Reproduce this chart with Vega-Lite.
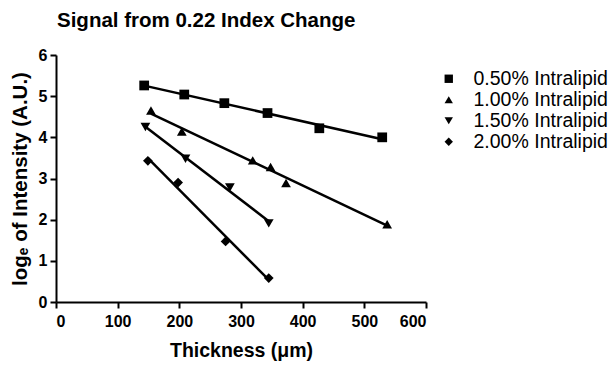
{
  "$schema": "https://vega.github.io/schema/vega-lite/v6.json",
  "autosize": "none",
  "width": 370,
  "height": 247,
  "padding": {"left": 56, "top": 55, "right": 188, "bottom": 65},
  "background": "white",
  "config": {
    "view": {"stroke": null},
    "font": "Liberation Sans"
  },
  "title": {
    "text": "Signal from 0.22 Index Change",
    "anchor": "start",
    "frame": "group",
    "fontSize": 20.5,
    "fontWeight": "bold",
    "font": "Liberation Sans",
    "color": "black",
    "offset": 16,
    "dx": 1
  },
  "data": {
    "values": [
      {"series": "0.50% Intralipid", "thickness": 143, "value": 5.26},
      {"series": "0.50% Intralipid", "thickness": 208, "value": 5.04},
      {"series": "0.50% Intralipid", "thickness": 273, "value": 4.83},
      {"series": "0.50% Intralipid", "thickness": 343, "value": 4.59},
      {"series": "0.50% Intralipid", "thickness": 427, "value": 4.22},
      {"series": "0.50% Intralipid", "thickness": 529, "value": 4.0},
      {"series": "1.00% Intralipid", "thickness": 154, "value": 4.65},
      {"series": "1.00% Intralipid", "thickness": 204, "value": 4.14},
      {"series": "1.00% Intralipid", "thickness": 319, "value": 3.44},
      {"series": "1.00% Intralipid", "thickness": 348, "value": 3.28},
      {"series": "1.00% Intralipid", "thickness": 373, "value": 2.89},
      {"series": "1.00% Intralipid", "thickness": 537, "value": 1.89},
      {"series": "1.50% Intralipid", "thickness": 145, "value": 4.25},
      {"series": "1.50% Intralipid", "thickness": 210, "value": 3.48},
      {"series": "1.50% Intralipid", "thickness": 282, "value": 2.78},
      {"series": "1.50% Intralipid", "thickness": 345, "value": 1.91},
      {"series": "2.00% Intralipid", "thickness": 149, "value": 3.43},
      {"series": "2.00% Intralipid", "thickness": 198, "value": 2.9},
      {"series": "2.00% Intralipid", "thickness": 275, "value": 1.47},
      {"series": "2.00% Intralipid", "thickness": 345, "value": 0.58}
    ]
  },
  "encoding": {
    "x": {
      "field": "thickness",
      "type": "quantitative",
      "scale": {"domain": [0, 600], "nice": false, "zero": false},
      "axis": {
        "title": "Thickness (μm)",
        "values": [0, 100, 200, 300, 400, 500, 600],
        "grid": false,
        "domainColor": "black",
        "domainWidth": 2,
        "tickColor": "black",
        "tickWidth": 2,
        "tickSize": 6,
        "labelFont": "Liberation Sans",
        "labelFontSize": 16,
        "labelFontWeight": "bold",
        "labelColor": "black",
        "labelPadding": 5,
        "titleFont": "Liberation Sans",
        "titleFontSize": 19.5,
        "titleFontWeight": "bold",
        "titleColor": "black",
        "titlePadding": 12
      }
    },
    "y": {
      "field": "value",
      "type": "quantitative",
      "scale": {"domain": [0, 6], "nice": false, "zero": false},
      "axis": {
        "title": "logₑ of Intensity (A.U.)",
        "values": [0, 1, 2, 3, 4, 5, 6],
        "grid": false,
        "domainColor": "black",
        "domainWidth": 2,
        "tickColor": "black",
        "tickWidth": 2,
        "tickSize": 6,
        "labelFont": "Liberation Sans",
        "labelFontSize": 16,
        "labelFontWeight": "bold",
        "labelColor": "black",
        "labelPadding": 3,
        "titleFont": "Liberation Sans",
        "titleFontSize": 20.5,
        "titleFontWeight": "bold",
        "titleColor": "black",
        "titlePadding": 8
      }
    }
  },
  "layer": [
    {
      "transform": [
        {"regression": "value", "on": "thickness", "groupby": ["series"]}
      ],
      "mark": {"type": "line", "color": "black", "strokeWidth": 2.5},
      "encoding": {
        "detail": {"field": "series", "type": "nominal"}
      }
    },
    {
      "mark": {"type": "point", "filled": true, "color": "black", "opacity": 1, "size": 95},
      "encoding": {
        "shape": {
          "field": "series",
          "type": "nominal",
          "scale": {
            "domain": ["0.50% Intralipid", "1.00% Intralipid", "1.50% Intralipid", "2.00% Intralipid"],
            "range": ["square", "triangle-up", "triangle-down", "diamond"]
          },
          "legend": {
            "title": null,
            "orient": "none",
            "legendX": 383,
            "legendY": 14,
            "padding": 0,
            "rowPadding": 0,
            "symbolSize": 70,
            "symbolFillColor": "black",
            "symbolStrokeColor": "black",
            "labelFont": "Liberation Sans",
            "labelFontSize": 19.5,
            "labelColor": "black",
            "labelOffset": 15
          }
        }
      }
    }
  ]
}
